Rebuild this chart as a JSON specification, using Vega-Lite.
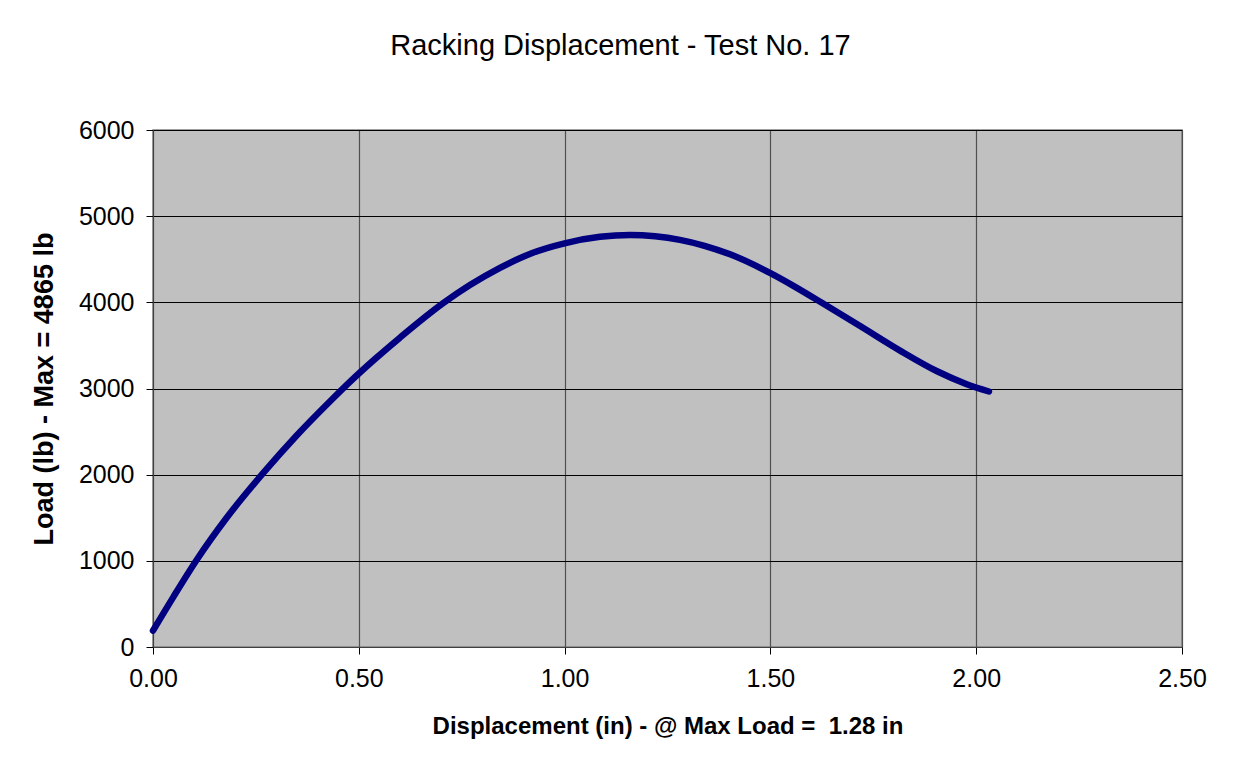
{
  "$schema": "https://vega.github.io/schema/vega-lite/v6.json",
  "width": 1029,
  "height": 517,
  "autosize": {"type": "none"},
  "padding": {"left": 153, "top": 130, "right": 53, "bottom": 118},
  "background": "white",
  "title": {
    "text": "Racking Displacement - Test No. 17",
    "font": "Liberation Sans",
    "fontSize": 29,
    "fontWeight": "normal",
    "color": "black",
    "anchor": "middle",
    "dx": -47,
    "offset": 57
  },
  "config": {
    "view": {"fill": "#C0C0C0", "stroke": "#808080", "strokeWidth": 1.5},
    "axis": {
      "labelFont": "Liberation Sans",
      "titleFont": "Liberation Sans",
      "labelColor": "black",
      "titleColor": "black",
      "tickColor": "black",
      "domainColor": "#404040",
      "gridOpacity": 1
    }
  },
  "data": {
    "values": [
      {"disp": 0.000, "load": 190},
      {"disp": 0.050, "load": 585},
      {"disp": 0.106, "load": 1010},
      {"disp": 0.179, "load": 1500},
      {"disp": 0.268, "load": 2020},
      {"disp": 0.349, "load": 2455},
      {"disp": 0.434, "load": 2870},
      {"disp": 0.479, "load": 3080},
      {"disp": 0.540, "load": 3345},
      {"disp": 0.600, "load": 3590},
      {"disp": 0.705, "load": 3990},
      {"disp": 0.770, "load": 4200},
      {"disp": 0.843, "load": 4400},
      {"disp": 0.920, "load": 4570},
      {"disp": 1.000, "load": 4685},
      {"disp": 1.086, "load": 4760},
      {"disp": 1.159, "load": 4781},
      {"disp": 1.220, "load": 4766},
      {"disp": 1.280, "load": 4725},
      {"disp": 1.340, "load": 4656},
      {"disp": 1.402, "load": 4557},
      {"disp": 1.500, "load": 4339},
      {"disp": 1.560, "load": 4180},
      {"disp": 1.625, "load": 3995},
      {"disp": 1.718, "load": 3725},
      {"disp": 1.815, "load": 3440},
      {"disp": 1.905, "load": 3200},
      {"disp": 1.977, "load": 3050},
      {"disp": 2.031, "load": 2965}
    ]
  },
  "mark": {"type": "line", "color": "#000080", "strokeWidth": 6.5, "strokeCap": "round", "interpolate": "monotone"},
  "encoding": {
    "x": {
      "field": "disp",
      "type": "quantitative",
      "scale": {"domain": [0, 2.5], "nice": false, "zero": true},
      "axis": {
        "title": "Displacement (in) - @ Max Load =\u00a0 1.28 in",
        "titleFontSize": 24,
        "titleFontWeight": "bold",
        "titlePadding": 23,
        "values": [0, 0.5, 1, 1.5, 2, 2.5],
        "format": ".2f",
        "labelFontSize": 25,
        "labelPadding": 12,
        "tickSize": 7,
        "labelFlush": false,
        "grid": true,
        "gridColor": "#505050",
        "gridWidth": 1.2
      }
    },
    "y": {
      "field": "load",
      "type": "quantitative",
      "scale": {"domain": [0, 6000], "nice": false},
      "axis": {
        "title": "Load (lb) - Max = 4865 lb",
        "titleFontSize": 27,
        "titleFontWeight": "bold",
        "titlePadding": 20,
        "values": [0, 1000, 2000, 3000, 4000, 5000, 6000],
        "format": "d",
        "labelFontSize": 25,
        "labelPadding": 12,
        "tickSize": 7,
        "labelFlush": false,
        "grid": true,
        "gridColor": "black",
        "gridWidth": 1
      }
    }
  }
}
